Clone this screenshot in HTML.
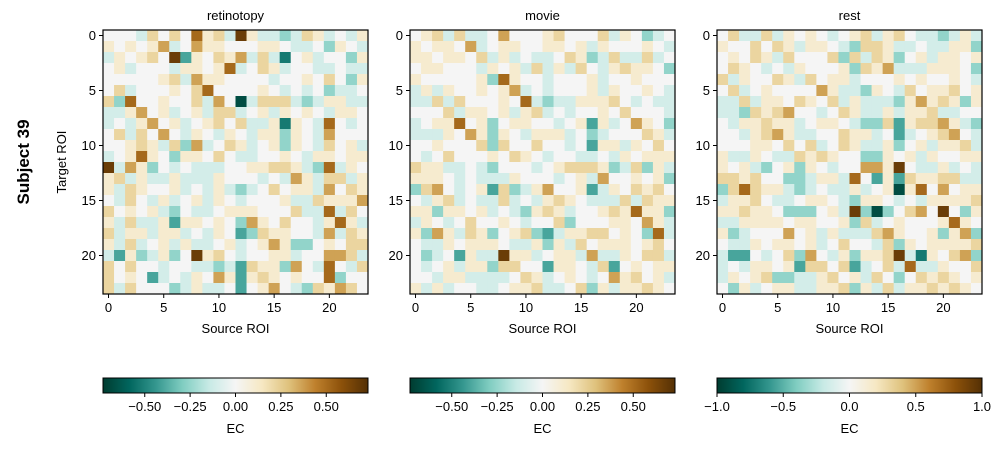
<!DOCTYPE html>
<html><head><meta charset="utf-8"><style>
body{margin:0;background:#fff;}
svg text{font-family:"Liberation Sans",sans-serif;fill:#000;}
</style></head><body>
<svg id="fig" width="1002" height="446" xmlns="http://www.w3.org/2000/svg">
<text x="29" y="162" font-size="17" font-weight="bold" text-anchor="middle" transform="rotate(-90 29 162)">Subject 39</text>
<text x="66" y="162" font-size="13" text-anchor="middle" transform="rotate(-90 66 162)">Target ROI</text>
</svg>
<script>
// level codes: digits = positive (brown), letters = negative (teal)
const codeLevels = {"0":0,"1":0.15,"2":0.3,"3":0.5,"4":0.7,"5":0.92,"a":-0.15,"b":-0.35,"c":-0.55,"d":-0.72,"e":-0.92};
const panelTitles = ["retinotopy","movie","rest"];
const panelVmax = [0.73,0.73,1.0];
const cbarTicks = [[-0.5,-0.25,0,0.25,0.5],[-0.5,-0.25,0,0.25,0.5],[-1,-0.5,0,0.5,1]];
const cbarTickLabels = [["−0.50","−0.25","0.00","0.25","0.50"],["−0.50","−0.25","0.00","0.25","0.50"],["−1.0","−0.5","0.0","0.5","1.0"]];
const axisTicks = [0,5,10,15,20];
const retinotopyRows = ["000a2020412a51aaba21a0a1","101013a0311000110aa0b10a","a101205c10213a2ad01a00b1","01a000a11014a021a00aa0aa","0000012a3110000a001020b1","02a0001024000010a0a0baa0","2b4001002a30ea222aba11aa","aa1301a01a22a01a1010a110","a0a1301a01202aa1d10a40a0","02a2030a10a10a11b10a3000","00121a2b3a021a01b10a201a","a01410b11020aa0010a11011","5a31b0a0aaa0011221ab4a10","12a1aa1aaa1000a0a31a22a1","1a21001a0a1aba02011a3021","0a20a1a01a10a0001aa21113","20101ab0aa01110002aa4a20","1a2aa1c11010b310200a141a","2a11a11a0a10cb21100a3a21","1a2a01a1aa01a0131bb01022","ac1ba1b05120a0011a00332a","20200a00aabac211b30a40a2","2010ca0a1031c12101004b00","2a2000ba1aa0c0130ab21320"];
const movieRows = ["012a2aa03000120002a10ba00".slice(0,24),"101103a01100110 1a100010a".replace(" ","").slice(0,24),"1101102a1a0aa021ba2aa2a0","011000a101a2a1a20a12110b","1000001b4100a0001a001000","a1a1001013a0a0001a10010a","aa2a2000104abaa11120a0aa","0002a1101a12a0a00102000a","a011401b01100a01c1a0310b","aaa1031b10a111a0ba00021a","0010002b200200a0c11a1020","0a02000102 10a00aa0a10111".replace(" ","").slice(0,24),"211aa0ab000a01222 1ba2b1a".replace(" ","").slice(0,24),"1110a0aaa1000a01a300101b","b230a01c2ba13001ca102120","0a12a0aa2a0a1210aaa2a211","11b1101a0ab121a00121411b","a10a020010a002b00011031a","1b31a21b012bca1122010b4a","0aa101110aa1b1a201110120","0ba0c1aa511a011a3aa1022a","0a01a11b2200c110a2c01011","00a11aaaa021a010a031201a","1a1a00aa0112aa02b1a11210"];
const restRows = ["02aa2a1010a012a120aaba1a","1002021a110ab221aa0aa11b","01021a20002b2a21b01a1101","0210a0a10001b213aaa1110b","2a10021a2011a0001010010a","02a01000031aab10a2011201","aa2a1102102a1aaab13121b1","aab212300a021aa1a112aa00","0a11211a0110abb2c12231ab","00a1231aa00211a0ca01230a","000110202a021aa1b01a112a","1aa10aa212100bb101a10011","101ab01b10a0033150aa1a0a","221200bba11a40c1c21122aa","b24211aba0aa1a01e1403011","a1120aa0110ab110a0a11112","112110bbb01a5beb023050b1","aa1111011001b2a010001410","1ba000301a1aaa231001b13b","0aa101101a0200a2b1011112","acc0a02b30a1b1125ad1023b".slice(0,24),"a0a1101c2202ca02a4aa1002","a1012bbaa1201a20b0212101","0b1a011aa112b1a2a1121210"];
const panelRows = [retinotopyRows, movieRows, restRows];

const stops = ["#543005","#8c510a","#bf812d","#dfc27d","#f6e8c3","#f5f5f5","#c7eae5","#80cdc1","#35978f","#01665e","#003c30"];
function hex(c){return [1,3,5].map(i=>parseInt(c.substr(i,2),16));}
function cmap(t){ // t in [0,1], 0 -> teal (negative), 1 -> brown (positive)
  t=Math.max(0,Math.min(1,t)); let u=(1-t)*10; let i=Math.min(9,Math.floor(u)); let f=u-i;
  const a=hex(stops[i]),b=hex(stops[i+1]);
  return "rgb("+a.map((v,k)=>Math.round(v+(b[k]-v)*f)).join(",")+")";
}
const NS="http://www.w3.org/2000/svg";
const svg=document.getElementById("fig");
function mk(tag,attrs,parent){const e=document.createElementNS(NS,tag);for(const k in attrs)e.setAttribute(k,attrs[k]);(parent||svg).appendChild(e);return e;}
const panelX=[103,410,717], axW=265, axY=30, axH=264, N=24;
const cbY=378, cbH=15;
panelRows.forEach((rows,p)=>{
  const g=mk("g",{});
  
  
  const x0=panelX[p], vmax=panelVmax[p];
  const cx=j=>x0+j*axW/N, cy=i=>axY+i*axH/N;
  rows.forEach((row,i)=>{
    for(let j=0;j<N;j++){
      const v=(codeLevels[row[j]]||0)*vmax;
      const r=mk("rect",{x:cx(j).toFixed(2),y:cy(i).toFixed(2),width:(axW/N+0.4).toFixed(2),height:(axH/N+0.4).toFixed(2),fill:cmap((v+vmax)/(2*vmax))},g);
      
      
    }
  });
  const fr=mk("rect",{x:x0,y:axY,width:axW,height:axH,fill:"none",stroke:"#000","stroke-width":1.2},g);
  
  
  const t=mk("text",{x:x0+axW/2,y:20,"font-size":13,"text-anchor":"middle"},g); t.textContent=panelTitles[p];
  
  
  axisTicks.forEach(k=>{
    const xx=cx(k)+axW/N/2, yy=cy(k)+axH/N/2;
    mk("line",{x1:xx,x2:xx,y1:axY+axH,y2:axY+axH+4,stroke:"#000"},g);
    const tx=mk("text",{x:xx,y:axY+axH+18,"font-size":13,"text-anchor":"middle"},g); tx.textContent=k;
    
    
    mk("line",{x1:x0-4,x2:x0,y1:yy,y2:yy,stroke:"#000"},g);
    const ty=mk("text",{x:x0-7,y:yy+4.5,"font-size":13,"text-anchor":"end"},g); ty.textContent=k;
    
    
  });
  const xl=mk("text",{x:x0+axW/2,y:333,"font-size":13,"text-anchor":"middle"},g); xl.textContent="Source ROI";
  
  
  // colorbar
  const cb=mk("g",{});
  
  
  for(let k=0;k<axW;k++){
    mk("rect",{x:x0+k,y:cbY,width:1.3,height:cbH,fill:cmap((k+0.5)/axW)},cb);
  }
  mk("rect",{x:x0,y:cbY,width:axW,height:cbH,fill:"none",stroke:"#000","stroke-width":1},cb);
  cbarTicks[p].forEach((v,k)=>{
    const xx=x0+(v+vmax)/(2*vmax)*axW;
    mk("line",{x1:xx,x2:xx,y1:cbY+cbH,y2:cbY+cbH+4,stroke:"#000"},cb);
    const tl=mk("text",{x:xx,y:cbY+cbH+18,"font-size":13,"text-anchor":"middle"},cb); tl.textContent=cbarTickLabels[p][k];
    
    
  });
  const ec=mk("text",{x:x0+axW/2,y:433,"font-size":13,"text-anchor":"middle"},cb); ec.textContent="EC";
  
  
});
</script>
</body></html>
